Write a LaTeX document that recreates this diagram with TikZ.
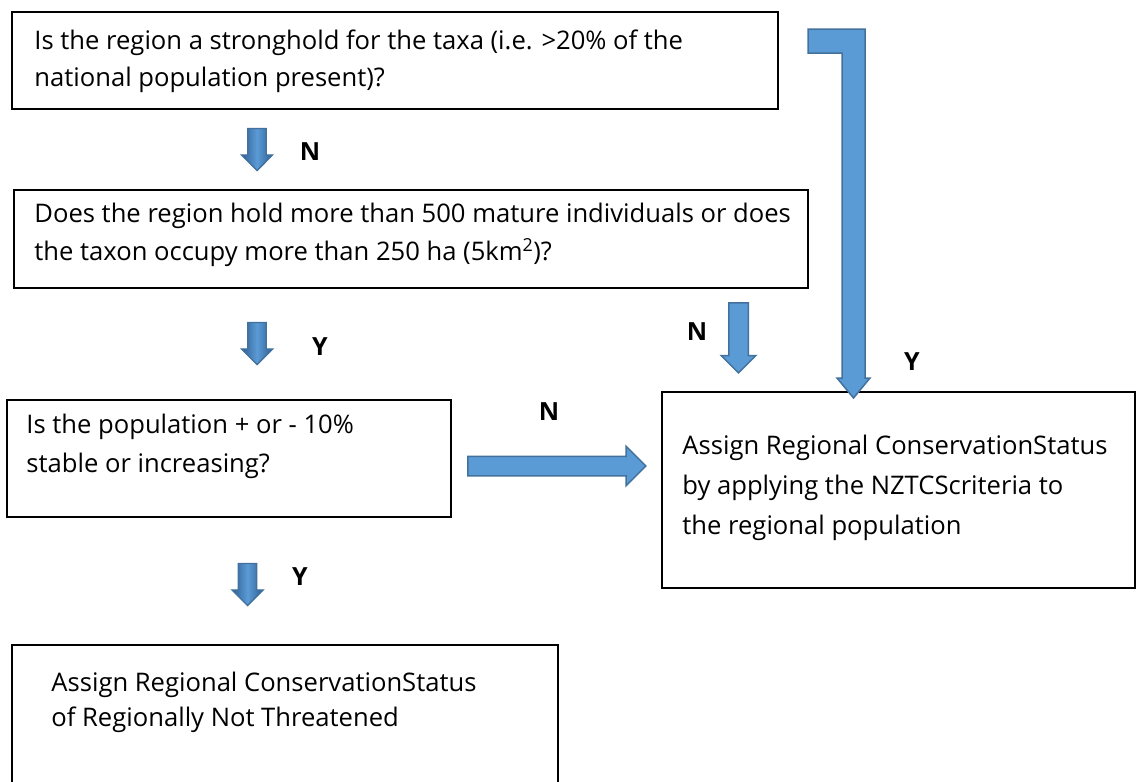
\documentclass[tikz,border=0pt]{standalone}
\usepackage{fontspec}
\setmainfont{Open Sans}
\usepackage{xcolor}
\usetikzlibrary{shapes.arrows, calc}
\definecolor{arrowfill}{HTML}{5B9BD5}
\definecolor{arrowedge}{HTML}{41719C}
\definecolor{arrowdeep}{HTML}{2F5E97}

\begin{document}
\begin{tikzpicture}[x=1pt, y=-1pt,
    qbox/.style={draw, line width=1.6pt, inner sep=0pt},
    qtext/.style={anchor=west, align=left, inner sep=0pt,
      font=\fontsize{25.6}{38}\selectfont},
    yn/.style={font=\fontsize{25}{25}\selectfont\bfseries},
    blockarr/.style={fill=arrowfill, draw=arrowedge, line width=1.5pt,
      line join=miter},
    downarr/.style={single arrow, shape border rotate=270, inner sep=8.5pt,
      draw=arrowedge, line width=1.3pt, single arrow head extend=6.5pt,
      minimum height=42pt,
      left color=arrowdeep, right color=arrowdeep, middle color=arrowfill},
  ]
    \useasboundingbox (0,0) rectangle (1136,782);

    % question boxes
    \node[qbox, minimum width=766, minimum height=97] (stronghold) at (395,60.5) {};
    \node[qtext, font=\fontsize{25.6}{37}\selectfont] (stronghold-t)
      at ($(stronghold.west)+(23,1)$)
      {Is the region a stronghold for the taxa (i.e. >20\% of the\\
       national population present)?};

    \node[qbox, minimum width=794, minimum height=98] (abundance) at (411,239) {};
    \node[qtext] (abundance-t) at ($(abundance.west)+(21,-4)$)
      {Does the region hold more than 500 mature individuals or does\\
       the taxon occupy more than 250 ha (5km\textsuperscript{2})?};

    \node[qbox, minimum width=444, minimum height=117] (trend) at (229,458.5) {};
    \node[qtext, font=\fontsize{25.6}{39}\selectfont] (trend-t)
      at ($(trend.west)+(20,-12)$)
      {Is the population + or - 10\%\\ stable or increasing?};

    % outcome boxes
    \node[qbox, minimum width=473, minimum height=196] (assess) at (898.5,490) {};
    \node[qtext, font=\fontsize{25.6}{40}\selectfont] (assess-t)
      at ($(assess.west)+(21,-2)$)
      {Assign Regional ConservationStatus\\ by applying the NZTCScriteria to\\
       the regional population};

    \node[qbox, minimum width=546, minimum height=145] (safe) at (285,717.5) {};
    \node[qtext, font=\fontsize{25.6}{35}\selectfont] (safe-t)
      at ($(safe.west)+(40,-15)$)
      {Assign Regional ConservationStatus\\ of Regionally Not Threatened};

    % small down arrows with answers
    \node[downarr] (down1) at (257,145) {};
    \node[yn] (no1) at (310,152) {N};
    \node[downarr] (down2) at (257,339) {};
    \node[yn] (yes1) at (320,347) {Y};
    \node[downarr] (down3) at (247.5,580) {};
    \node[yn] (yes2) at (300,577) {Y};

    % arrows into the assessment box
    \node[single arrow, shape border rotate=270, blockarr, inner sep=9pt,
      single arrow head extend=7.5pt, minimum height=70pt] (down4) at (738.5,333) {};
    \node[yn] (no2) at (697,332) {N};

    \node[single arrow, blockarr, inner sep=9pt,
      single arrow head extend=10pt, minimum height=178pt] (across) at (552,466) {};
    \node[yn] (no3) at (549,412) {N};

    % bent arrow from the first question
    \draw[blockarr] (808,29) -- (865,29) -- (865,378) -- (870,378)
      -- (853.5,398) -- (837,378) -- (842,378) -- (842,53) -- (808,53) -- cycle;
    \node[yn] (yes3) at (912,362) {Y};
\end{tikzpicture}
\end{document}
